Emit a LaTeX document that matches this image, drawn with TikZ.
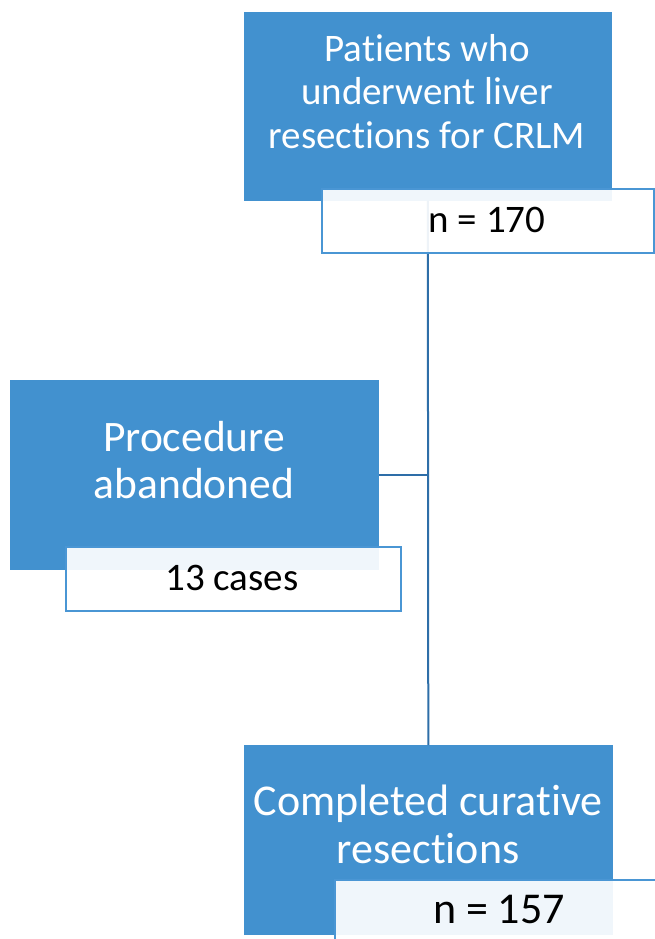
\documentclass[tikz,border=0pt]{standalone}
\usepackage{fontspec}
\setmainfont{Carlito}[RawFeature=-liga]
\definecolor{boxblue}{RGB}{66,145,207}
\definecolor{edgeblue}{RGB}{74,150,212}
\definecolor{lineblue}{RGB}{46,110,168}
\begin{document}
\begin{tikzpicture}[x=1pt,y=-1pt,
  bluebox/.style={draw=boxblue,fill=boxblue,line width=0.6pt,inner sep=0pt,anchor=north west},
  whitebox/.style={draw=edgeblue,fill=white,fill opacity=0.92,line width=1.8pt,inner sep=0pt,anchor=north west},
  conn/.style={draw=lineblue,line width=2pt},
  btext/.style={text=white,align=center,anchor=base,inner sep=0pt},
  ktext/.style={text=black,anchor=base,inner sep=0pt}]
\useasboundingbox (0,0) rectangle (655,939);
% blue boxes
\node[bluebox,minimum width=367pt,minimum height=188pt] (b1) at (244,12) {};
\node[bluebox,minimum width=368pt,minimum height=189pt] (b2) at (10,380) {};
\node[bluebox,minimum width=368pt,minimum height=189pt] (b3) at (244,745) {};
% connectors
\draw[conn] (b1.south) -- (b3.north);
\draw[conn] (b2.east) -- (b2.east -| b1.south);
% white count boxes
\node[whitebox,minimum width=332pt,minimum height=64pt] (w1) at (321,188) {};
\node[whitebox,minimum width=335pt,minimum height=64pt] (w2) at (65,546) {};
\node[whitebox,minimum width=360pt,minimum height=90pt] (w3) at (334,879) {};
% texts
\node[btext,font=\fontsize{39}{43}\selectfont] (t1a) at (427,62) {Patients who};
\node[btext,font=\fontsize{39}{43}\selectfont] (t1b) at (427,105) {underwent liver};
\node[btext,font=\fontsize{39}{43}\selectfont] (t1c) at (427,148) {resections for CRLM};
\node[ktext,font=\fontsize{39}{43}\selectfont] (n1) at (487,232) {n = 170};
\node[btext,font=\fontsize{43.5}{47}\selectfont] (t2a) at (194,451) {Procedure};
\node[btext,font=\fontsize{43.5}{47}\selectfont] (t2b) at (194,498) {abandoned};
\node[ktext,font=\fontsize{39}{45}\selectfont] (n2) at (232,590) {13 cases};
\node[btext,font=\fontsize{44}{48}\selectfont] (t3a) at (428,815) {Completed curative};
\node[btext,font=\fontsize{44}{48}\selectfont] (t3b) at (428,863) {resections};
\node[ktext,font=\fontsize{44}{50}\selectfont] (n3) at (499,923) {n = 157};
\end{tikzpicture}
\end{document}
